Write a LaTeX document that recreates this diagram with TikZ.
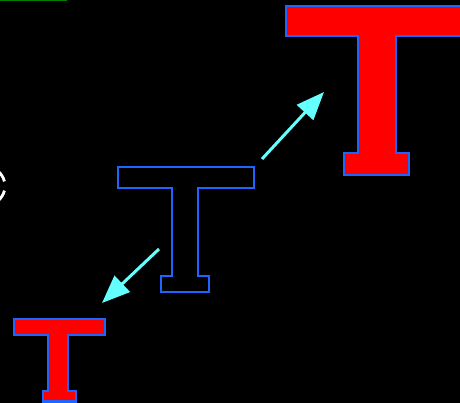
\documentclass[tikz,border=0pt]{standalone}
\usetikzlibrary{arrows.meta}
\definecolor{tblue}{RGB}{30,100,255}
\definecolor{tcyan}{RGB}{100,255,255}
\definecolor{tgreen}{RGB}{0,128,0}
\tikzset{
  tout/.style={draw=tblue, line width=2.8pt, line join=miter},
  tfill/.style={tout, fill=red},
  bigarrow/.style={draw=tcyan, line width=3pt, -{Triangle[length=28pt,width=22pt]}, color=tcyan},
}
\begin{document}
\begin{tikzpicture}[x=1pt,y=-1pt]
\useasboundingbox (0,0) rectangle (460,403);
\clip (0,0) rectangle (460,403);
\fill[black] (0,0) rectangle (460,403);
% green line at top
\draw[tgreen, line width=2pt] (0,0.5) -- (67,0.5);
% white partial glyph at left edge
\coordinate (wc) at (-14,186);
\draw[white, line width=2.8pt] ([shift={(-50:19)}]wc) arc[start angle=-50, end angle=-14, radius=19];
\draw[white, line width=2.8pt] ([shift={(14:19)}]wc) arc[start angle=14, end angle=50, radius=19];
% large T
\draw[tfill] (286,6) -- (470,6) -- (470,36) -- (396,36) -- (396,153) -- (409,153) -- (409,175)
  -- (344,175) -- (344,153) -- (358,153) -- (358,36) -- (286,36) -- cycle;
% middle T (outline)
\draw[tout] (118,167) -- (254,167) -- (254,188) -- (198,188) -- (198,276) -- (209,276) -- (209,292)
  -- (161,292) -- (161,276) -- (172,276) -- (172,188) -- (118,188) -- cycle;
% small T
\draw[tfill] (14,319) -- (105,319) -- (105,335) -- (68,335) -- (68,391) -- (76,391) -- (76,401.5)
  -- (43,401.5) -- (43,391) -- (48,391) -- (48,335) -- (14,335) -- cycle;
% arrows
\coordinate (a1s) at (262,159);
\coordinate (a1e) at (324,92);
\coordinate (a2s) at (159,249);
\coordinate (a2e) at (102,303);
\draw[bigarrow] (a1s) -- (a1e);
\draw[bigarrow] (a2s) -- (a2e);
\end{tikzpicture}
\end{document}
